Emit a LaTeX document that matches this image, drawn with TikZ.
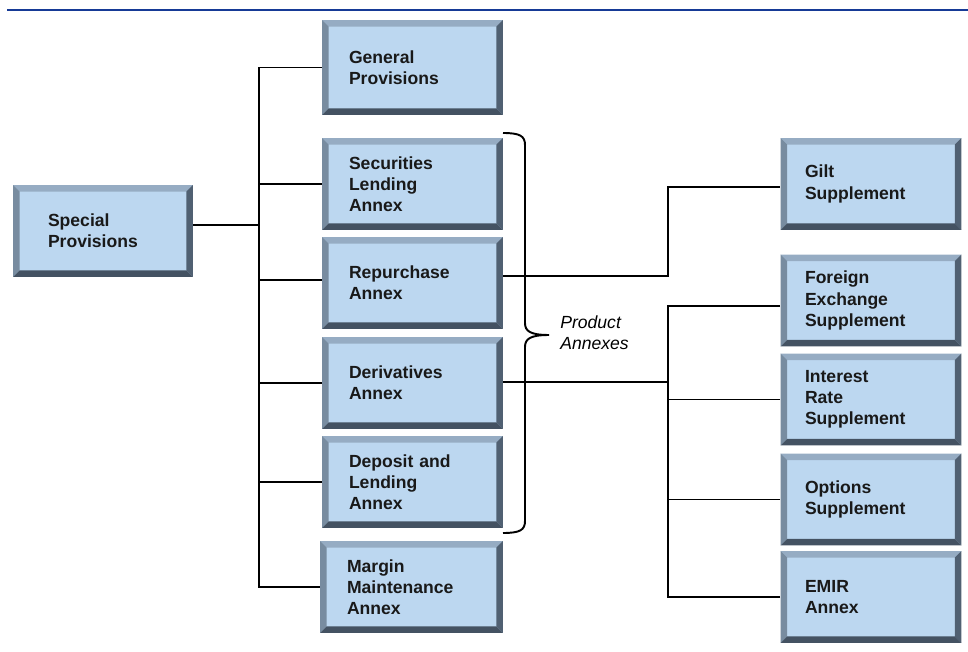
\documentclass[tikz,border=0pt]{standalone}
\usepackage{fontspec}
\setmainfont{Liberation Sans}
\usepackage{tikz}
\usetikzlibrary{calc}
\definecolor{boxblue}{RGB}{188,215,240}
\definecolor{beveltop}{RGB}{150,172,195}
\definecolor{bevelleft}{RGB}{120,140,160}
\definecolor{bevelright}{RGB}{80,96,114}
\definecolor{bevelbottom}{RGB}{68,82,98}
\definecolor{rulerblue}{RGB}{22,58,150}
\newcommand{\bevw}{0.13cm}
\tikzset{
	boxstyle/.style={rectangle,fill=boxblue,minimum width=3.62cm,minimum height=1.84cm,
		text width=2.54cm,inner xsep=0.54cm,align=left,font=\bfseries,text=black!90,
		path picture={
			\fill[beveltop] (path picture bounding box.north west) -- (path picture bounding box.north east)
				-- ([shift={(-\bevw,-\bevw)}]path picture bounding box.north east)
				-- ([shift={(\bevw,-\bevw)}]path picture bounding box.north west) -- cycle;
			\fill[bevelleft] (path picture bounding box.north west) -- (path picture bounding box.south west)
				-- ([shift={(\bevw,\bevw)}]path picture bounding box.south west)
				-- ([shift={(\bevw,-\bevw)}]path picture bounding box.north west) -- cycle;
			\fill[bevelright] (path picture bounding box.north east) -- (path picture bounding box.south east)
				-- ([shift={(-\bevw,\bevw)}]path picture bounding box.south east)
				-- ([shift={(-\bevw,-\bevw)}]path picture bounding box.north east) -- cycle;
			\fill[bevelbottom] (path picture bounding box.south west) -- (path picture bounding box.south east)
				-- ([shift={(-\bevw,\bevw)}]path picture bounding box.south east)
				-- ([shift={(\bevw,\bevw)}]path picture bounding box.south west) -- cycle;
		}},
	linkstyle/.style={draw=black,line width=1.1pt}
}
\begin{document}
\begin{tikzpicture}[x=0.02cm,y=-0.02cm]
		\useasboundingbox (0,0) rectangle (968,652);
		\draw[rulerblue,line width=1.5pt] (7,10) -- (968,10);
		\node[boxstyle,minimum height=1.9cm] (general) at (412.5,67.5) {General\\Provisions};
		\node[boxstyle] (securities) at (412.5,184) {Securities\\Lending\\Annex};
		\node[boxstyle] (repo) at (412.5,283) {Repurchase\\Annex};
		\node[boxstyle] (deriv) at (412.5,383) {Derivatives\\Annex};
		\node[boxstyle] (deposit) at (412.5,482) {Deposit and\\Lending\\Annex};
		\node[boxstyle,minimum width=3.66cm,text width=2.58cm] (margin) at (411.5,587) {Margin\\Maintenance\\Annex};
		\node[boxstyle,minimum width=3.6cm,text width=2.2cm,inner xsep=0.7cm] (special) at (103,231) {Special\\Provisions};
		\node[boxstyle,text width=2.64cm,inner xsep=0.49cm] (gilt) at (871,184) {Gilt\\Supplement};
		\node[boxstyle,text width=2.64cm,inner xsep=0.49cm] (fx) at (871,300.5) {Foreign\\Exchange\\Supplement};
		\node[boxstyle,text width=2.64cm,inner xsep=0.49cm] (rate) at (871,399.5) {Interest\\Rate\\Supplement};
		\node[boxstyle,text width=2.64cm,inner xsep=0.49cm] (options) at (871,499.5) {Options\\Supplement};
		\node[boxstyle,text width=2.64cm,inner xsep=0.49cm] (emir) at (871,597) {EMIR\\Annex};
		% left tree
		\coordinate (ltrunk) at (259,225);
		\draw[linkstyle] (special.east |- ltrunk) -- (ltrunk);
		\draw[linkstyle] (general.west) -| (ltrunk);
		\draw[linkstyle] (margin.west) -| (ltrunk);
		\draw[linkstyle] (securities.west) -- (securities.west -| ltrunk);
		\draw[linkstyle] ([yshift=0.06cm]repo.west) -- ([yshift=0.06cm]repo.west -| ltrunk);
		\draw[linkstyle] (deriv.west) -- (deriv.west -| ltrunk);
		\draw[linkstyle] (deposit.west) -- (deposit.west -| ltrunk);
		% right tree
		\coordinate (gtrunk) at (668,276);
		\draw[linkstyle] (repo.east |- gtrunk) -- (gtrunk) |- ([yshift=-0.06cm]gilt.west);
		\coordinate (rtrunk) at (668,382);
		\draw[linkstyle] (deriv.east |- rtrunk) -- (rtrunk);
		\draw[linkstyle] ([yshift=-0.11cm]fx.west) -| (rtrunk);
		\draw[linkstyle] (emir.west) -| (rtrunk);
		\draw[linkstyle] (rate.west) -- (rate.west -| rtrunk);
		\draw[linkstyle] (options.west) -- (options.west -| rtrunk);
		% brace
		\draw[line width=1.1pt] (503,133) .. controls (520,133) and (525,136) .. (525,145) -- (525,323)
			.. controls (525,331) and (530,335) .. (549,335)
			.. controls (530,335) and (525,339) .. (525,347) -- (525,521)
			.. controls (525,530) and (520,533) .. (503,533);
		\node[anchor=west,align=left,font=\itshape,inner sep=0pt] (products) at (560,333) {Product\\Annexes};
		\end{tikzpicture}
\end{document}
